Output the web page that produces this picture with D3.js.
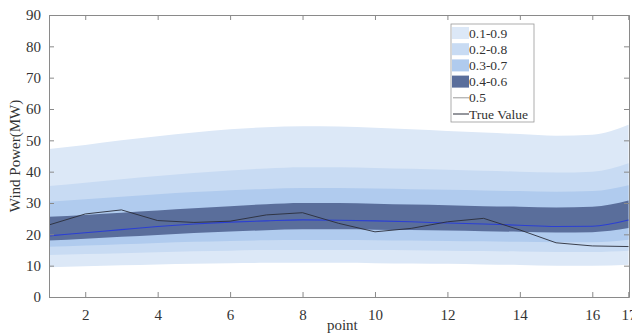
<!DOCTYPE html>
<html>
<head>
<meta charset="utf-8">
<script src="https://cdn.jsdelivr.net/npm/d3@7"></script>
<style>
  body { margin: 0; background: #fff; }
  svg { display: block; font-family: "Liberation Serif", "Times New Roman", serif; }
</style>
</head>
<body>
<div id="chart"></div>
<script>
// dati
const points = d3.range(1, 18);
const q10 = [9.5, 9.8, 10.1, 10.4, 10.6, 10.8, 10.9, 10.9, 10.9, 10.8, 10.7, 10.6, 10.4, 10.2, 10.0, 10.0, 10.3];
const q90 = [47.2, 48.5, 50.0, 51.3, 52.5, 53.5, 54.2, 54.5, 54.4, 54.0, 53.5, 53.0, 52.5, 52.0, 51.5, 51.8, 55.0];
const q20 = [13.4, 13.7, 14.0, 14.3, 14.6, 14.8, 15.0, 15.0, 15.0, 15.0, 14.9, 14.8, 14.7, 14.5, 14.4, 14.4, 14.8];
const q80 = [35.4, 36.5, 37.6, 38.6, 39.6, 40.4, 41.0, 41.4, 41.4, 41.2, 40.9, 40.6, 40.3, 40.0, 39.7, 40.0, 42.7];
const q30 = [16.0, 16.4, 16.8, 17.2, 17.6, 17.9, 18.1, 18.2, 18.2, 18.1, 18.0, 17.9, 17.8, 17.6, 17.5, 17.5, 18.3];
const q70 = [30.4, 31.2, 32.0, 32.8, 33.5, 34.1, 34.5, 34.8, 34.8, 34.6, 34.4, 34.2, 34.0, 33.8, 33.6, 33.8, 35.7];
const q40 = [18.0, 18.6, 19.2, 19.8, 20.4, 20.9, 21.3, 21.6, 21.6, 21.5, 21.4, 21.2, 21.0, 20.8, 20.6, 20.7, 22.0];
const q60 = [25.6, 26.2, 26.9, 27.6, 28.3, 29.0, 29.6, 30.0, 30.0, 29.8, 29.5, 29.3, 29.0, 28.8, 28.6, 28.8, 30.8];
const median = [19.5, 20.5, 21.5, 22.5, 23.3, 23.9, 24.3, 24.6, 24.5, 24.3, 24.0, 23.6, 23.3, 22.9, 22.5, 22.6, 24.6];
const trueValue = [23.0, 26.5, 27.8, 24.4, 23.8, 24.2, 26.2, 26.9, 23.5, 20.8, 21.9, 24.0, 25.1, 21.4, 17.3, 16.3, 16.1];

const xTicks = [2, 4, 6, 8, 10, 12, 14, 16, 17];
const yTicks = [0, 10, 20, 30, 40, 50, 60, 70, 80, 90];

const bands = [
    { label: "0.1-0.9", lo: q10, hi: q90, color: "#dce8f7" },
    { label: "0.2-0.8", lo: q20, hi: q80, color: "#c8dbf3" },
    { label: "0.3-0.7", lo: q30, hi: q70, color: "#b0cbee" },
    { label: "0.4-0.6", lo: q40, hi: q60, color: "#5a6e9b" }
];

const width = 632, height = 333;
const margin = { top: 15, right: 3, bottom: 36, left: 49 };
const innerW = width - margin.left - margin.right;
const innerH = height - margin.top - margin.bottom;
const axisColor = "#8a8a8a";
const textColor = "#333";

const svg = d3.select("#chart").append("svg")
    .attr("width", width)
    .attr("height", height);

const g = svg.append("g").attr("transform", `translate(${margin.left},${margin.top})`);

const x = d3.scaleLinear().domain([1, 17]).range([0, innerW - 0.5]);
const y = d3.scaleLinear().domain([0, 90]).range([innerH, 0]);

// bande di quantili
bands.forEach(b => {
    const area = d3.area()
        .x((d, i) => x(points[i]))
        .y0((d, i) => y(b.lo[i]))
        .y1((d, i) => y(b.hi[i]))
        .curve(d3.curveMonotoneX);
    g.append("path").datum(points).attr("d", area).attr("fill", b.color);
});

// linee
const line = arr => d3.line()
    .x((d, i) => x(points[i]))
    .y((d, i) => y(arr[i]))
    .curve(d3.curveMonotoneX)(points);

g.append("path").attr("d", line(median))
    .attr("fill", "none").attr("stroke", "#2b3fd4").attr("stroke-width", 1.1);

g.append("path")
    .attr("d", d3.line().x((d, i) => x(points[i])).y((d, i) => y(trueValue[i]))(points))
    .attr("fill", "none").attr("stroke", "#2a2e3a").attr("stroke-width", 0.9);

// assi (tick verso l'interno, su tutti i lati come in MATLAB)
const tickLen = 5;
const bottomAxis = g.append("g").attr("transform", `translate(0,${innerH})`)
    .call(d3.axisBottom(x).tickValues(xTicks).tickSize(-tickLen).tickPadding(12).tickFormat(d3.format("d")));
const topAxis = g.append("g")
    .call(d3.axisTop(x).tickValues(xTicks).tickSize(-tickLen).tickFormat(""));
const leftAxis = g.append("g")
    .call(d3.axisLeft(y).tickValues(yTicks).tickSize(-tickLen).tickPadding(8));
const rightAxis = g.append("g").attr("transform", `translate(${innerW},0)`)
    .call(d3.axisRight(y).tickValues(yTicks).tickSize(-tickLen).tickFormat(""));

[bottomAxis, topAxis, leftAxis, rightAxis].forEach(a => {
    a.select(".domain").attr("stroke", axisColor);
    a.selectAll(".tick line").attr("stroke", axisColor);
    a.selectAll(".tick text").attr("fill", textColor).style("font-size", "15px")
        .style("font-family", "Liberation Serif, serif");
});

// etichette assi
svg.append("text")
    .attr("x", margin.left + x(9.1))
    .attr("y", 330)
    .attr("text-anchor", "middle")
    .attr("fill", textColor)
    .style("font-size", "15px")
    .text("point");

svg.append("text")
    .attr("transform", `translate(20,${margin.top + innerH / 2}) rotate(-90)`)
    .attr("text-anchor", "middle")
    .attr("fill", textColor)
    .style("font-size", "15px")
    .text("Wind Power(MW)");

// legenda
const legendItems = [
    ...bands.map(b => ({ label: b.label, type: "rect", color: b.color })),
    { label: "0.5", type: "line", color: "#9a9a9a" },
    { label: "True Value", type: "line", color: "#2a2e3a" }
];
const lx = 451, ly = 24, lw = 83, lh = 98, rowH = 16.2;
const legend = svg.append("g");
legend.append("rect")
    .attr("x", lx).attr("y", ly).attr("width", lw).attr("height", lh)
    .attr("fill", "#fff").attr("stroke", "#9a9a9a").attr("stroke-width", 0.8);

legendItems.forEach((it, i) => {
    const cy = ly + 9 + i * rowH;
    if (it.type === "rect") {
        legend.append("rect")
            .attr("x", lx + 1).attr("y", cy - 6).attr("width", 17).attr("height", 12)
            .attr("fill", it.color);
    } else {
        legend.append("line")
            .attr("x1", lx + 2).attr("x2", lx + 18).attr("y1", cy).attr("y2", cy)
            .attr("stroke", it.color).attr("stroke-width", 1);
    }
    legend.append("text")
        .attr("x", lx + 18).attr("y", cy + 4.5)
        .attr("fill", textColor)
        .style("font-size", "13.5px")
        .text(it.label);
});
</script>
</body>
</html>
